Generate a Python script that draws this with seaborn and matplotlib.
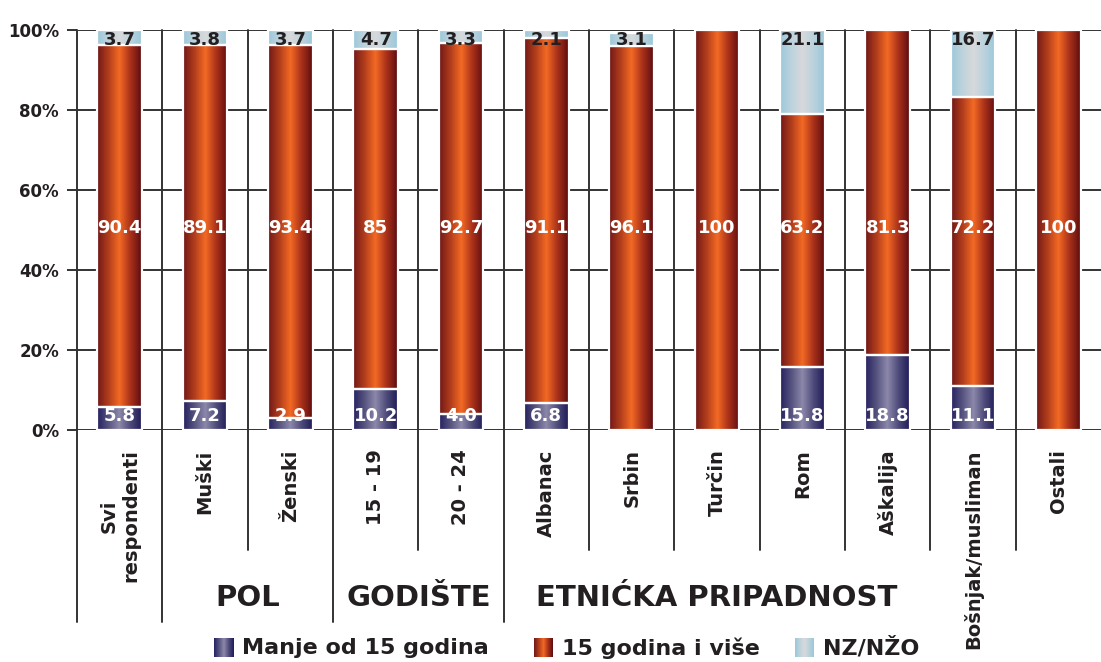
import numpy as np
import pandas as pd
import matplotlib
matplotlib.use("Agg")
import matplotlib.pyplot as plt
import seaborn as sns
from matplotlib.colors import LinearSegmentedColormap

# data
categories = ["Svi\nrespondenti", "Muški", "Ženski", "15 - 19", "20 - 24", "Albanac",
              "Srbin", "Turčin", "Rom", "Aškalija", "Bošnjak/musliman", "Ostali"]
under_15 = ["5.8", "7.2", "2.9", "10.2", "4.0", "6.8", "", "", "15.8", "18.8", "11.1", ""]
over_15 = ["90.4", "89.1", "93.4", "85", "92.7", "91.1", "96.1", "100", "63.2", "81.3", "72.2", "100"]
nz_nzo = ["3.7", "3.8", "3.7", "4.7", "3.3", "2.1", "3.1", "", "21.1", "", "16.7", ""]
groups = ["POL", "GODIŠTE", "ETNIĆKA PRIPADNOST"]
legend_labels = ["Manje od 15 godina", "15 godina i više", "NZ/NŽO"]

df = pd.DataFrame({
    "grupa": categories,
    "manje": pd.to_numeric(pd.Series(under_15).replace("", "0")),
    "vise": pd.to_numeric(pd.Series(over_15).replace("", "0")),
    "nz": pd.to_numeric(pd.Series(nz_nzo).replace("", "0")),
})

TXT = "#231f20"
LINE = "#333333"

cmaps = [
    LinearSegmentedColormap.from_list("navy", ["#25215f", "#55527f", "#8c88aa", "#4d4a7a", "#1f1b57"]),
    LinearSegmentedColormap.from_list("red", ["#701818", "#b03c1c", "#f36a24", "#a8301a", "#5c0c10"]),
    LinearSegmentedColormap.from_list("lblue", ["#9cc8da", "#bcd3dd", "#d8d9db", "#b9d2dd", "#9ac7d9"]),
]
grad = np.linspace(0, 1, 256).reshape(1, -1)

sns.set_style("white")
plt.rcParams["font.family"] = ["DejaVu Sans"]
plt.rcParams["font.weight"] = "bold"

fig = plt.figure(figsize=(11.01, 6.62), dpi=100)
ax = fig.add_axes([77 / 1101, 232 / 662, 1 - 77 / 1101, 400 / 662])

# stacked bars through seaborn
bottoms = [np.zeros(len(df)), df["manje"].values, (df["manje"] + df["vise"]).values]
series_patches = []
for col, bottom in zip(["manje", "vise", "nz"], bottoms):
    n0 = len(ax.patches)
    sns.barplot(data=df, x="grupa", y=col, bottom=bottom, width=0.52,
                color="white", edgecolor="white", linewidth=1.6, ax=ax)
    series_patches.append(ax.patches[n0:])

# gradient fill clipped to each bar
for cmap, patches in zip(cmaps, series_patches):
    for p in patches:
        if p.get_height() <= 0:
            continue
        x0, y0 = p.get_x(), p.get_y()
        im = ax.imshow(grad, cmap=cmap, aspect="auto", zorder=1.5,
                       extent=(x0, x0 + p.get_width(), y0, y0 + p.get_height()))
        im.set_clip_path(p)
        p.set_facecolor("none")
        p.set_zorder(2)

ax.set_xlim(-0.5, 11.5)
ax.set_ylim(0, 100)
ax.set_xlabel("")
ax.set_ylabel("")

# axes styling
sns.despine(ax=ax, left=True, bottom=True, top=True, right=True)
ax.set_axisbelow(True)
ax.yaxis.grid(True, color=LINE, linewidth=1.4)
ax.set_yticks(range(0, 101, 20))
ax.set_yticklabels([f"{v}%" for v in range(0, 101, 20)], fontsize=12, fontweight="bold", color=TXT)
ax.tick_params(axis="y", length=7, width=1.4, color=LINE, pad=6, left=True)
ax.tick_params(axis="x", length=0, pad=14)
for lab in ax.get_xticklabels():
    lab.set_rotation(90)
    lab.set_fontsize(14)
    lab.set_fontweight("bold")
    lab.set_color(TXT)
    lab.set_multialignment("center")

# category separators, longer between groups
trans = ax.get_xaxis_transform()
long_edges = [0, 1, 3, 5]
for i in range(12):
    y_end = -0.48 if i in long_edges else -0.3
    ax.plot([i - 0.5, i - 0.5], [1, y_end], color=LINE, linewidth=1.4,
            transform=trans, clip_on=False, zorder=0.5)

# group titles
for label, xpos in zip(groups, [1.5, 3.5, 7.0]):
    ax.text(xpos, -0.42, label, transform=trans, ha="center", va="center",
            fontsize=21, fontweight="bold", color=TXT)

# value labels
for i in range(len(df)):
    if under_15[i]:
        ax.text(i, 3.4, under_15[i], ha="center", va="center", color="white",
                fontsize=13, fontweight="bold", zorder=3)
    if over_15[i]:
        ax.text(i, 50.5, over_15[i], ha="center", va="center", color="white",
                fontsize=13, fontweight="bold", zorder=3)
    if nz_nzo[i]:
        ax.text(i, 97.4, nz_nzo[i], ha="center", va="center", color=TXT,
                fontsize=13, fontweight="bold", zorder=3)

# legend drawn by hand to keep the gradient swatches
for cmap, label, sx in zip(cmaps, legend_labels, [214, 534, 795]):
    sw = fig.add_axes([sx / 1101, 5 / 662, 19 / 1101, 19 / 662])
    sw.imshow(grad, cmap=cmap, aspect="auto")
    sw.axis("off")
    fig.text((sx + 28) / 1101, 14 / 662, label, ha="left", va="center",
             fontsize=16, fontweight="bold", color=TXT)

fig.savefig("out.png", dpi=100)
